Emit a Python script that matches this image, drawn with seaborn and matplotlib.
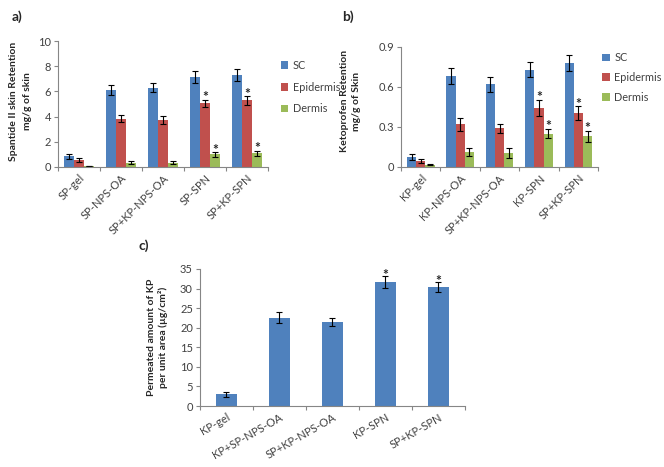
import numpy as np
import pandas as pd
import matplotlib
matplotlib.use("Agg")
import matplotlib.pyplot as plt
import seaborn as sns
from matplotlib.patches import Patch

sns.set_style("white")
plt.rcParams['font.family'] = ['Lato', 'DejaVu Sans']

# ---------------- data ----------------
layers = ["SC", "Epidermis", "Dermis"]

cats_a = ["SP-gel", "SP-NPS-OA", "SP+KP-NPS-OA", "SP-SPN", "SP+KP-SPN"]
a_sc = [0.85, 6.1, 6.3, 7.15, 7.3]
a_sc_err = [0.2, 0.4, 0.35, 0.45, 0.5]
a_epi = [0.55, 3.85, 3.75, 5.05, 5.3]
a_epi_err = [0.15, 0.3, 0.3, 0.3, 0.35]
a_der = [0.08, 0.35, 0.35, 1.0, 1.1]
a_der_err = [0.02, 0.12, 0.12, 0.2, 0.2]
a_star = [[False, False, False, False, False],
          [False, False, False, True, True],
          [False, False, False, True, True]]

cats_b = ["KP-gel", "KP-NPS-OA", "SP+KP-NPS-OA", "KP-SPN", "SP+KP-SPN"]
b_sc = [0.075, 0.68, 0.62, 0.73, 0.78]
b_sc_err = [0.02, 0.06, 0.055, 0.055, 0.06]
b_epi = [0.048, 0.32, 0.29, 0.445, 0.405]
b_epi_err = [0.015, 0.05, 0.035, 0.06, 0.05]
b_der = [0.018, 0.115, 0.105, 0.25, 0.23]
b_der_err = [0.005, 0.03, 0.035, 0.035, 0.04]
b_star = a_star

cats_c = ["KP-gel", "KP+SP-NPS-OA", "SP+KP-NPS-OA", "KP-SPN", "SP+KP-SPN"]
c_val = [3.0, 22.5, 21.5, 31.6, 30.3]
c_err = [0.6, 1.4, 1.0, 1.5, 1.3]
c_star = [False, False, False, True, True]

colors = ["#4F81BD", "#C0504D", "#9BBB59"]
tick_col = "#404040"

fig = plt.figure(figsize=(6.64, 4.67), dpi=100)


def style_axis(ax, ymax, step, fmt):
    for s in ["top", "right"]:
        ax.spines[s].set_visible(False)
    for s in ["left", "bottom"]:
        ax.spines[s].set_color("#868686")
        ax.spines[s].set_linewidth(0.8)
    ax.set_ylim(0, ymax)
    ticks = np.arange(0, ymax + step / 2, step)
    ax.set_yticks(ticks)
    ax.set_yticklabels([fmt(t) for t in ticks], fontsize=8, color=tick_col)
    ax.tick_params(axis="y", direction="out", length=3, width=0.8, color="#868686", left=True, pad=2)
    ax.set_xlabel("")


def set_cat_ticks(ax, cats, rot, ha="right"):
    n = len(cats)
    ax.set_xlim(-0.5, n - 0.5)
    ax.set_xticks(np.arange(n))
    ax.set_xticklabels(cats, rotation=rot, ha=ha, rotation_mode="anchor", fontsize=8, color=tick_col)
    ax.tick_params(axis="x", length=0, pad=4)
    ax.set_xticks(np.arange(-0.5, n, 1.0), minor=True)
    ax.tick_params(axis="x", which="minor", direction="out", length=3, width=0.8, color="#868686", bottom=True)


def grouped(ax, cats, vals, errs, stars, ymax, step, fmt, star_off):
    rows = []
    for li, layer in enumerate(layers):
        for ci, c in enumerate(cats):
            rows.append({"cat": c, "layer": layer, "val": vals[li][ci]})
    df = pd.DataFrame(rows)
    sns.barplot(data=df, x="cat", y="val", hue="layer", order=cats, hue_order=layers,
                palette=colors, width=0.7, errorbar=None, ax=ax, legend=False,
                saturation=1, linewidth=0)
    conts = list(ax.containers)
    for li, cont in enumerate(conts):
        for ci, p in enumerate(cont.patches):
            xc = p.get_x() + p.get_width() / 2
            h = p.get_height()
            e = errs[li][ci]
            ax.errorbar(xc, h, yerr=e, fmt="none", ecolor="black", elinewidth=0.8, capsize=2, capthick=0.8)
            if stars[li][ci]:
                ax.text(xc, h + e + star_off, "*", ha="center", va="bottom", fontsize=10, fontweight="bold")
    style_axis(ax, ymax, step, fmt)
    set_cat_ticks(ax, cats, 45)


def place_ylabel(ax, text, x, spacing, y=0.52):
    ax.set_ylabel(text, fontsize=7.5, fontweight="bold", linespacing=spacing)
    ax.yaxis.label.set_va("center")
    ax.yaxis.set_label_coords(x, y)


# Panel a
ax_a = fig.add_axes([0.0873, 0.6424, 0.3163, 0.2696])
grouped(ax_a, cats_a, [a_sc, a_epi, a_der], [a_sc_err, a_epi_err, a_der_err], a_star,
        10, 2, lambda t: f"{int(t)}", -0.3)
place_ylabel(ax_a, "Spantide II skin Retention\nmg/g of skin", -0.18, 1.75)

# Panel b
ax_b = fig.add_axes([0.604, 0.6424, 0.2967, 0.2570])
grouped(ax_b, cats_b, [b_sc, b_epi, b_der], [b_sc_err, b_epi_err, b_der_err], b_star,
        0.9, 0.3, lambda t: ("0" if t == 0 else f"{t:.1f}"), -0.025)
place_ylabel(ax_b, "Ketoprofen Retention\nmg/g of Skin", -0.255, 1.4, 0.55)

# legends
handles = [Patch(facecolor=c, edgecolor="none") for c in colors]
fig.legend(handles, layers, loc="upper left", bbox_to_anchor=(0.423, 0.872), frameon=False,
           fontsize=7.8, handlelength=0.7, handleheight=0.7, handletextpad=0.4, labelspacing=1.0,
           labelcolor=tick_col, borderpad=0, borderaxespad=0)
fig.legend(handles, layers, loc="upper left", bbox_to_anchor=(0.907, 0.888), frameon=False,
           fontsize=7.8, handlelength=0.7, handleheight=0.7, handletextpad=0.4, labelspacing=0.8,
           labelcolor=tick_col, borderpad=0, borderaxespad=0)

# Panel c
ax_c = fig.add_axes([0.301, 0.1306, 0.399, 0.2934])
dfc = pd.DataFrame({"cat": cats_c, "val": c_val})
sns.barplot(data=dfc, x="cat", y="val", order=cats_c, color=colors[0], width=0.4,
            errorbar=None, ax=ax_c, saturation=1, linewidth=0)
for ci, p in enumerate(list(ax_c.patches)):
    xc = p.get_x() + p.get_width() / 2
    h = p.get_height()
    e = c_err[ci]
    ax_c.errorbar(xc, h, yerr=e, fmt="none", ecolor="black", elinewidth=0.8, capsize=2, capthick=0.8)
    if c_star[ci]:
        ax_c.text(xc, h + e - 1.2, "*", ha="center", va="bottom", fontsize=10, fontweight="bold")
style_axis(ax_c, 35, 5, lambda t: f"{int(t)}")
set_cat_ticks(ax_c, cats_c, 30)
ax_c.set_ylabel("Permeated amount of KP\nper unit area (\u00b5g/cm\u00b2)", fontsize=7.5,
                fontweight="bold", linespacing=1.3)
ax_c.yaxis.label.set_va("center")
ax_c.yaxis.set_label_coords(-0.16, 0.5)

# panel labels
fig.text(0.018, 0.965, "a)", fontsize=10, fontweight="bold", va="center")
fig.text(0.515, 0.965, "b)", fontsize=10, fontweight="bold", va="center")
fig.text(0.208, 0.474, "c)", fontsize=10, fontweight="bold", va="center")

fig.savefig("out.png", dpi=100)
